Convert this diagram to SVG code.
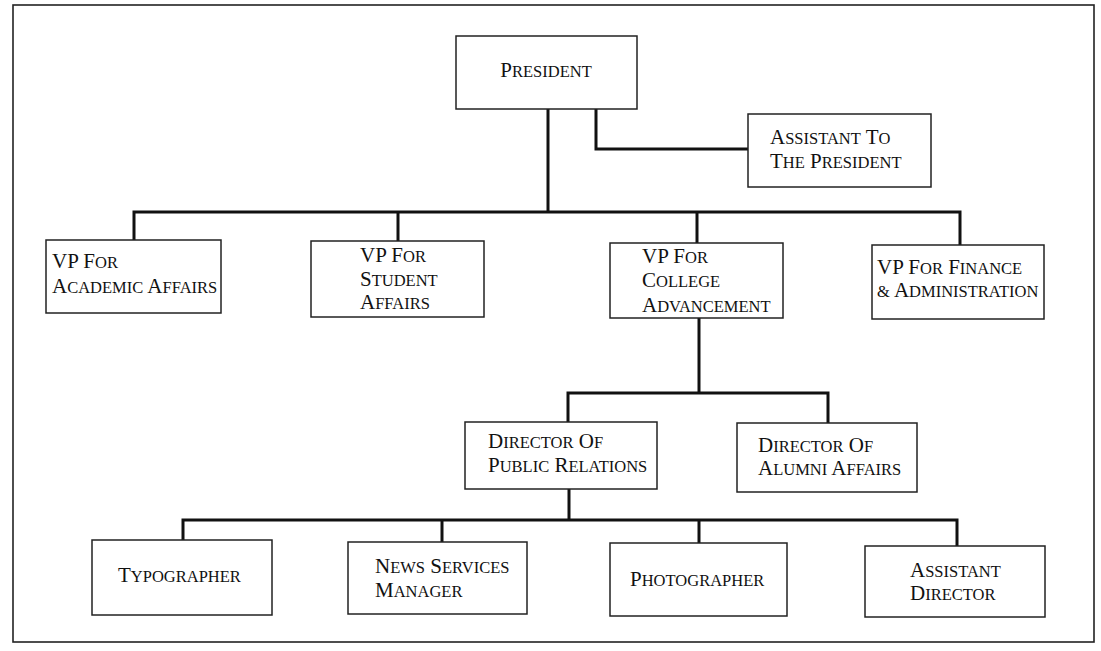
<svg xmlns="http://www.w3.org/2000/svg" width="1101" height="651" viewBox="0 0 1101 651">
<style>
.box{fill:#fff;stroke:#222;stroke-width:1.5}
.frame{fill:none;stroke:#222;stroke-width:1.6}
.conn{fill:none;stroke:#111;stroke-width:3;stroke-linejoin:miter}
text{font-family:"Liberation Serif","Times New Roman",serif;font-size:21px;fill:#111}
.s{font-size:16.5px;text-transform:uppercase}
</style>
<rect width="1101" height="651" fill="#fff"/>
<rect class="frame" x="13" y="5" width="1081" height="637"/>
<g id="connectors">
<path class="conn" d="M548,109 V212"/>
<path class="conn" d="M596,109 V149 H748"/>
<path class="conn" d="M134,240 V212 H960 V245"/>
<path class="conn" d="M398,212 V241"/>
<path class="conn" d="M697,212 V243"/>
<path class="conn" d="M699,318 V393"/>
<path class="conn" d="M568,422 V393 H828 V423"/>
<path class="conn" d="M569,489 V520"/>
<path class="conn" d="M183,540 V520 H957 V546"/>
<path class="conn" d="M442,520 V542"/>
<path class="conn" d="M699,520 V543"/>
</g>
<g id="president"><rect class="box" x="456" y="36" width="181" height="73"/><text x="546" y="77" text-anchor="middle">P<tspan class="s">resident</tspan></text></g>
<g id="assistant-president"><rect class="box" x="748" y="114" width="183" height="73"/><text x="770" y="144">A<tspan class="s">ssistant</tspan> T<tspan class="s">o</tspan></text><text x="770" y="168">T<tspan class="s">he</tspan> P<tspan class="s">resident</tspan></text></g>
<g id="vp-academic"><rect class="box" x="46" y="240" width="175" height="73"/><text x="52" y="268">VP F<tspan class="s">or</tspan></text><text x="52" y="293">A<tspan class="s">cademic</tspan> A<tspan class="s">ffairs</tspan></text></g>
<g id="vp-student"><rect class="box" x="311" y="241" width="173" height="76"/><text x="360" y="262">VP F<tspan class="s">or</tspan></text><text x="360" y="286">S<tspan class="s">tudent</tspan></text><text x="360" y="309">A<tspan class="s">ffairs</tspan></text></g>
<g id="vp-college"><rect class="box" x="610" y="243" width="173" height="75"/><text x="642" y="263">VP F<tspan class="s">or</tspan></text><text x="642" y="287">C<tspan class="s">ollege</tspan></text><text x="642" y="312">A<tspan class="s">dvancement</tspan></text></g>
<g id="vp-finance"><rect class="box" x="872" y="245" width="172" height="74"/><text x="877" y="274">VP F<tspan class="s">or</tspan> F<tspan class="s">inance</tspan></text><text x="877" y="297"><tspan class="s">&amp;</tspan> A<tspan class="s">dministration</tspan></text></g>
<g id="dir-pr"><rect class="box" x="465" y="422" width="192" height="67"/><text x="488" y="448">D<tspan class="s">irector</tspan> O<tspan class="s">f</tspan></text><text x="488" y="472">P<tspan class="s">ublic</tspan> R<tspan class="s">elations</tspan></text></g>
<g id="dir-alumni"><rect class="box" x="737" y="423" width="180" height="69"/><text x="758" y="452">D<tspan class="s">irector</tspan> O<tspan class="s">f</tspan></text><text x="758" y="475">A<tspan class="s">lumni</tspan> A<tspan class="s">ffairs</tspan></text></g>
<g id="typographer"><rect class="box" x="92" y="540" width="180" height="75"/><text x="118" y="582">T<tspan class="s">ypographer</tspan></text></g>
<g id="news-manager"><rect class="box" x="348" y="542" width="179" height="72"/><text x="375" y="573">N<tspan class="s">ews</tspan> S<tspan class="s">ervices</tspan></text><text x="375" y="597">M<tspan class="s">anager</tspan></text></g>
<g id="photographer"><rect class="box" x="610" y="543" width="177" height="73"/><text x="630" y="586">P<tspan class="s">hotographer</tspan></text></g>
<g id="assistant-director"><rect class="box" x="865" y="546" width="180" height="71"/><text x="910" y="577">A<tspan class="s">ssistant</tspan></text><text x="910" y="600">D<tspan class="s">irector</tspan></text></g>
</svg>
